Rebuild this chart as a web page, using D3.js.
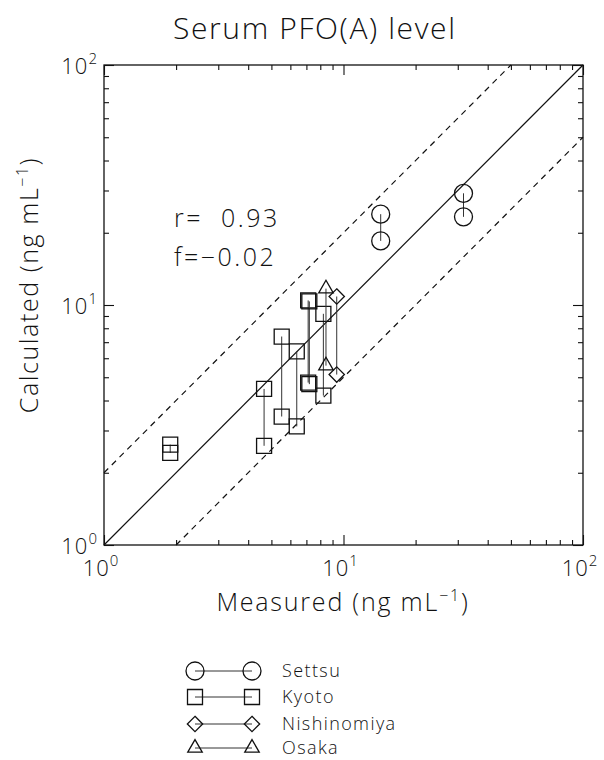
<!DOCTYPE html>
<html><head><meta charset="utf-8">
<script src="https://cdn.jsdelivr.net/npm/d3@7"></script>
<style>
body{margin:0;background:#fff;}
text{font-family:"Open Sans","DejaVu Sans",sans-serif;font-weight:300;fill:#111;}
</style></head>
<body><svg id="c" width="604" height="760"></svg>
<script>
// ---- data ----
const categories = ["Settsu", "Kyoto", "Nishinomiya", "Osaka"];
const settsuMeasured = [14.3, 31.7];
const settsuCalcA = [23.9, 29.2];
const settsuCalcB = [18.5, 23.3];
const kyotoMeasured = [1.89, 4.66, 5.52, 6.38, 7.12, 7.2, 8.24];
const kyotoCalcA = [2.62, 4.47, 7.39, 6.41, 10.45, 10.35, 9.19];
const kyotoCalcB = [2.42, 2.59, 3.43, 3.12, 4.75, 4.68, 4.19];
const nishinomiyaMeasured = [9.37];
const nishinomiyaCalcA = [10.85];
const nishinomiyaCalcB = [5.13];
const osakaMeasured = [8.45];
const osakaCalcA = [11.7];
const osakaCalcB = [5.59];
const majorTicks = [1, 10, 100];
const minorTicks = [2,3,4,5,6,7,8,9,20,30,40,50,60,70,80,90];
const tickExponents = ["0", "1", "2"];
const statLines = ["r=  0.93", "f=\u22120.02"];

const svg = d3.select("#c");
const L = 104, R = 583, T = 65, B = 545;
const x = d3.scaleLog().domain([1, 100]).range([L, R]);
const y = d3.scaleLog().domain([1, 100]).range([B, T]);

// frame
svg.append("rect").attr("x", L).attr("y", T).attr("width", R - L).attr("height", B - T)
  .attr("fill", "none").attr("stroke", "#111").attr("stroke-width", 1.3);

// ticks (inward, all sides)
function ticks(axisFn, scale, vals, size, tr) {
  const g = svg.append("g").attr("transform", tr)
    .call(axisFn(scale).tickValues(vals).tickSize(size).tickFormat(""));
  g.select(".domain").remove();
  g.selectAll("line").attr("stroke", "#111").attr("stroke-width", 1.1);
}
ticks(d3.axisBottom, x, majorTicks, -10, `translate(0,${B})`);
ticks(d3.axisBottom, x, minorTicks, -5, `translate(0,${B})`);
ticks(d3.axisTop, x, majorTicks, -10, `translate(0,${T})`);
ticks(d3.axisTop, x, minorTicks, -5, `translate(0,${T})`);
ticks(d3.axisLeft, y, majorTicks, -10, `translate(${L},0)`);
ticks(d3.axisLeft, y, minorTicks, -5, `translate(${L},0)`);
ticks(d3.axisRight, y, majorTicks, -10, `translate(${R},0)`);
ticks(d3.axisRight, y, minorTicks, -5, `translate(${R},0)`);

// tick labels
majorTicks.forEach((v, i) => {
  const tb = svg.append("text").attr("x", x(v) - 3).attr("y", B + 31)
    .attr("text-anchor", "middle").style("font-size", "22px").style("letter-spacing", "1px");
  tb.append("tspan").text("10");
  tb.append("tspan").attr("dy", -10).style("font-size", "15px").text(tickExponents[i]);
  const tl = svg.append("text").attr("x", 98).attr("y", y(v) + 9)
    .attr("text-anchor", "end").style("font-size", "22px").style("letter-spacing", "1px");
  tl.append("tspan").text("10");
  tl.append("tspan").attr("dy", -10).style("font-size", "15px").text(tickExponents[i]);
});

// reference lines
const line = d3.line().x(d => x(d[0])).y(d => y(d[1]));
svg.append("path").attr("d", line([[1, 1], [100, 100]]))
  .attr("stroke", "#111").attr("stroke-width", 1.2).attr("fill", "none");
svg.append("path").attr("d", line([[1, 2], [50, 100]]))
  .attr("stroke", "#111").attr("stroke-width", 1.2).attr("fill", "none").attr("stroke-dasharray", "6,5");
svg.append("path").attr("d", line([[2, 1], [100, 50]]))
  .attr("stroke", "#111").attr("stroke-width", 1.2).attr("fill", "none").attr("stroke-dasharray", "6,5");

// markers
const symbols = {
  Settsu: d3.symbol().type(d3.symbolCircle).size(Math.PI * 81),
  Kyoto: d3.symbol().type(d3.symbolSquare).size(225),
  Nishinomiya: d3.symbol().type(d3.symbolDiamond2).size(150),
  Osaka: d3.symbol().type(d3.symbolTriangle2).size(150)
};
const series = [
  {name: "Settsu", m: settsuMeasured, a: settsuCalcA, b: settsuCalcB},
  {name: "Kyoto", m: kyotoMeasured, a: kyotoCalcA, b: kyotoCalcB},
  {name: "Nishinomiya", m: nishinomiyaMeasured, a: nishinomiyaCalcA, b: nishinomiyaCalcB},
  {name: "Osaka", m: osakaMeasured, a: osakaCalcA, b: osakaCalcB}
];
const plot = svg.append("g");
series.forEach(s => {
  s.m.forEach((mv, i) => {
    plot.append("line").attr("x1", x(mv)).attr("x2", x(mv))
      .attr("y1", y(s.a[i])).attr("y2", y(s.b[i]))
      .attr("stroke", "#333").attr("stroke-width", 1);
    [s.a[i], s.b[i]].forEach(cv => {
      plot.append("path").attr("d", symbols[s.name]())
        .attr("transform", `translate(${x(mv)},${y(cv)})`)
        .attr("fill", "none").attr("stroke", "#111").attr("stroke-width", 1.3);
    });
  });
});

// stats text
statLines.forEach((t, i) => {
  svg.append("text").attr("x", 174).attr("y", 227 + i * 39)
    .style("font-size", "25px").style("letter-spacing", "2.5px")
    .style("white-space", "pre").attr("xml:space", "preserve").text(t);
});

// title and axis titles
svg.append("text").attr("x", 314).attr("y", 39).attr("text-anchor", "middle")
  .style("font-size", "30px").attr("textLength", 282).attr("lengthAdjust", "spacing")
  .text("Serum PFO(A) level");
const xt = svg.append("text").attr("x", 343).attr("y", 611).attr("text-anchor", "middle")
  .style("font-size", "25px").style("letter-spacing", "1.8px");
xt.append("tspan").text("Measured (ng mL");
xt.append("tspan").attr("dy", -10).style("font-size", "16px").text("\u22121");
xt.append("tspan").attr("dy", 10).text(")");
const yt = svg.append("text").attr("transform", "translate(38,285) rotate(-90)")
  .attr("text-anchor", "middle").style("font-size", "25px").style("letter-spacing", "1.6px");
yt.append("tspan").text("Calculated (ng mL");
yt.append("tspan").attr("dy", -10).style("font-size", "16px").text("\u22121");
yt.append("tspan").attr("dy", 10).text(")");

// legend
const legY = [671, 697, 724, 748];
categories.forEach((c, i) => {
  const g = svg.append("g");
  g.append("line").attr("x1", 195).attr("x2", 252).attr("y1", legY[i]).attr("y2", legY[i])
    .attr("stroke", "#333").attr("stroke-width", 1);
  [195, 252].forEach(px => {
    g.append("path").attr("d", symbols[c]()).attr("transform", `translate(${px},${legY[i]})`)
      .attr("fill", "none").attr("stroke", "#111").attr("stroke-width", 1.3);
  });
  g.append("text").attr("x", 282).attr("y", legY[i] + 6).style("font-size", "18px")
    .style("letter-spacing", "1.4px").text(c);
});
</script></body></html>
